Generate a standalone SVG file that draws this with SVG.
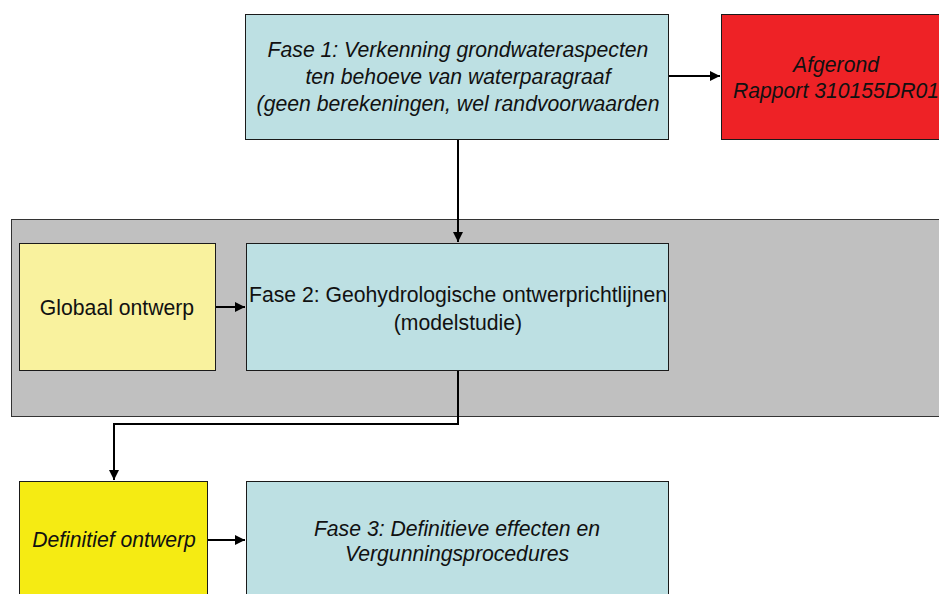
<svg xmlns="http://www.w3.org/2000/svg" width="939" height="594" viewBox="0 0 939 594">
  <style>
    .box { stroke: #1a1a1a; stroke-width: 1; }
    .blue { fill: #bde0e3; }
    .red { fill: #ee2226; }
    .pale { fill: #f9f29e; }
    .yellow { fill: #f5eb13; }
    .band { fill: #c0c0c0; stroke: #333; stroke-width: 1; }
    text { font-family: "Liberation Sans", Arial, sans-serif; font-size: 21.2px; fill: #111; text-anchor: middle; }
    .it { font-style: italic; }
    .conn { fill: none; stroke: #000; stroke-width: 2; }
  </style>
  <defs>
    <marker id="arrow" viewBox="0 0 10 10" refX="10" refY="5" markerWidth="5" markerHeight="5" orient="auto" markerUnits="strokeWidth">
      <path d="M0,0 L10,5 L0,10 z" fill="#000"/>
    </marker>
  </defs>

  <rect width="939" height="594" fill="#fff"/>

  <!-- grey band behind phase 2 -->
  <rect class="band" x="11.5" y="219.5" width="940" height="197"/>

  <g id="fase1">
    <rect class="box blue" x="245.5" y="14.5" width="423" height="125"/>
    <text class="it" x="458" y="57">Fase 1: Verkenning grondwateraspecten</text>
    <text class="it" x="458" y="84">ten behoeve van waterparagraaf</text>
    <text class="it" x="458" y="111">(geen berekeningen, wel randvoorwaarden</text>
  </g>

  <g id="afgerond">
    <rect class="box red" x="721.5" y="14.5" width="230" height="125"/>
    <text class="it" x="836" y="72">Afgerond</text>
    <text class="it" x="836" y="98">Rapport 310155DR01</text>
  </g>

  <g id="globaal">
    <rect class="box pale" x="19.5" y="243.5" width="196" height="127"/>
    <text x="117" y="315">Globaal ontwerp</text>
  </g>

  <g id="fase2">
    <rect class="box blue" x="246.5" y="243.5" width="422" height="127"/>
    <text x="458" y="302">Fase 2: Geohydrologische ontwerprichtlijnen</text>
    <text x="458" y="330">(modelstudie)</text>
  </g>

  <g id="definitief">
    <rect class="box yellow" x="19.5" y="481.5" width="188" height="130"/>
    <text class="it" x="114" y="547">Definitief ontwerp</text>
  </g>

  <g id="fase3">
    <rect class="box blue" x="246.5" y="481.5" width="422" height="130"/>
    <text class="it" x="457" y="536">Fase 3: Definitieve effecten en</text>
    <text class="it" x="457" y="561">Vergunningsprocedures</text>
  </g>

  <g id="connectors">
    <path class="conn" d="M669,76 H720" marker-end="url(#arrow)"/>
    <path class="conn" d="M458,140 V242" marker-end="url(#arrow)"/>
    <path class="conn" d="M216,307 H245" marker-end="url(#arrow)"/>
    <path class="conn" d="M458,371 V424 H114 V480" marker-end="url(#arrow)"/>
    <path class="conn" d="M208,540 H245" marker-end="url(#arrow)"/>
  </g>
</svg>
